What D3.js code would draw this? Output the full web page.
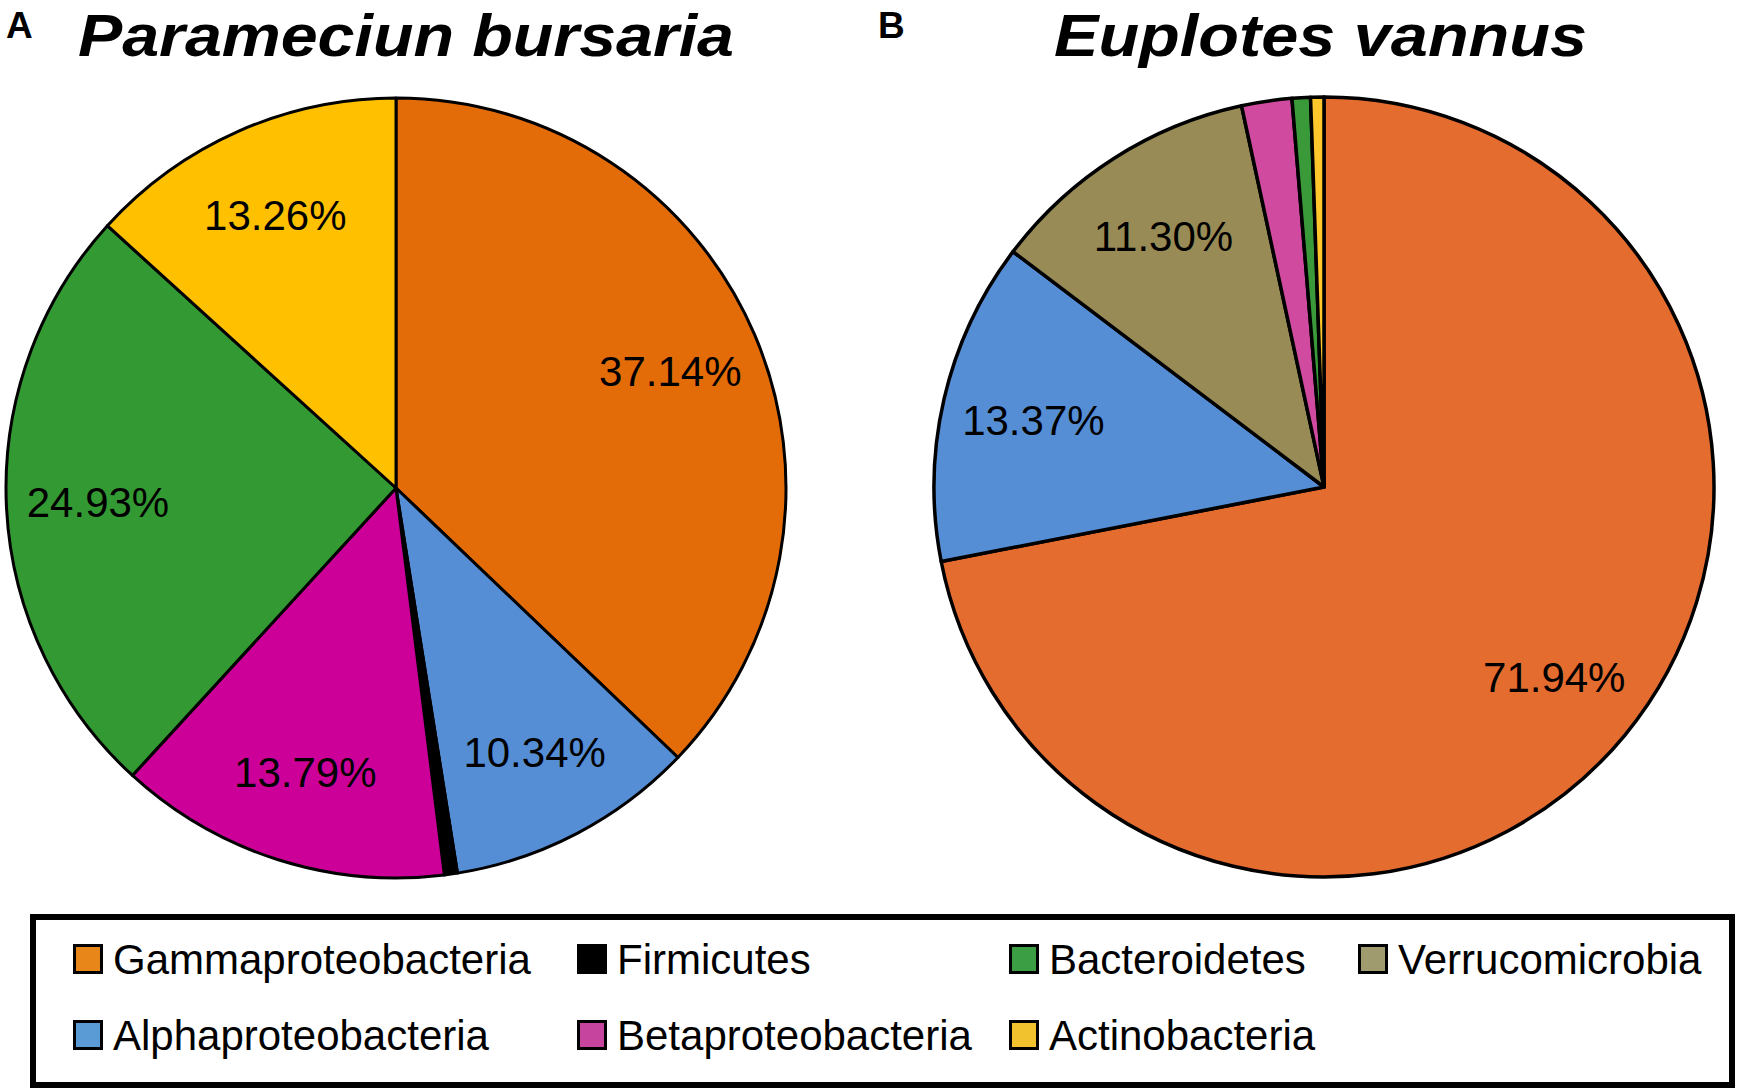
<!DOCTYPE html>
<html>
<head>
<meta charset="utf-8">
<script src="https://cdn.jsdelivr.net/npm/d3@7"></script>
<style>
  html, body { margin: 0; padding: 0; background: #fff; }
  svg { display: block; }
  text { font-family: "Liberation Sans", Arial, sans-serif; }
</style>
</head>
<body>
<svg id="chart" width="1743" height="1091"></svg>
<script>
// panel A
const paramCategories = ['Gammaproteobacteria', 'Alphaproteobacteria', 'Firmicutes', 'Betaproteobacteria', 'Bacteroidetes', 'Actinobacteria'];
const paramValues = [37.14, 10.34, 0.54, 13.79, 24.93, 13.26];
// panel B
const euploCategories = ['Gammaproteobacteria', 'Alphaproteobacteria', 'Verrucomicrobia', 'Betaproteobacteria', 'Bacteroidetes', 'Actinobacteria'];
const euploValues = [71.94, 13.37, 11.30, 2.08, 0.76, 0.55];
// legend, two rows
const legendRow1 = ['Gammaproteobacteria', 'Firmicutes', 'Bacteroidetes', 'Verrucomicrobia'];
const legendRow2 = ['Alphaproteobacteria', 'Betaproteobacteria', 'Actinobacteria'];

const colorsA = d3.scaleOrdinal()
    .domain(paramCategories)
    .range(['#e36c09', '#558ed5', '#000000', '#cc0099', '#339933', '#ffc000']);
const colorsB = d3.scaleOrdinal()
    .domain(euploCategories)
    .range(['#e46c2f', '#558ed5', '#988b55', '#d04aa0', '#3a9a3a', '#ffc72c']);
const legendColor = d3.scaleOrdinal()
    .domain(['Gammaproteobacteria', 'Firmicutes', 'Bacteroidetes', 'Verrucomicrobia', 'Alphaproteobacteria', 'Betaproteobacteria', 'Actinobacteria'])
    .range(['#e8861a', '#000000', '#3b9e44', '#a09b6e', '#5b9bd5', '#c6449e', '#f2c12e']);

const svg = d3.select('#chart');
const radius = 390;
const fmt = d3.format('.2f');

const drawPie = (cx, cy, cats, vals, color, strokeW) => {
    const data = cats.map((c, i) => ({ name: c, value: vals[i] }));
    const pie = d3.pie().sort(null).value(d => d.value);
    const arc = d3.arc().innerRadius(0).outerRadius(radius);
    const labelArc = d3.arc().innerRadius(radius * 0.765).outerRadius(radius * 0.765);

    const g = svg.append('g').attr('transform', 'translate(' + cx + ',' + cy + ')');
    const arcs = pie(data);

    g.selectAll('path')
    .data(arcs)
    .enter()
    .append('path')
    .attr('d', arc)
    .style('fill', d => color(d.data.name))
    .style('stroke', '#000')
    .style('stroke-width', strokeW)
    .style('stroke-linejoin', 'round');

    // only the big slices carry a label
    g.selectAll('text.pct')
    .data(arcs.filter(d => d.data.value >= 5))
    .enter()
    .append('text')
    .attr('class', 'pct')
    .attr('transform', d => 'translate(' + labelArc.centroid(d) + ')')
    .attr('text-anchor', 'middle')
    .attr('dy', '0.36em')
    .style('font-size', '42px')
    .style('fill', '#000')
    .text(d => fmt(d.data.value) + '%');
};

drawPie(396, 488, paramCategories, paramValues, colorsA, 3);
drawPie(1324, 487, euploCategories, euploValues, colorsB, 3.5);

// panel letters and titles
svg.append('text').attr('x', 6).attr('y', 38)
    .style('font-size', '37px').style('font-weight', 'bold').text('A');
svg.append('text').attr('x', 878).attr('y', 38)
    .style('font-size', '37px').style('font-weight', 'bold').text('B');

svg.append('text').attr('x', 78).attr('y', 56)
    .attr('textLength', 656).attr('lengthAdjust', 'spacingAndGlyphs')
    .style('font-size', '60px').style('font-weight', 'bold').style('font-style', 'italic')
    .text('Parameciun bursaria');
svg.append('text').attr('x', 1054).attr('y', 56)
    .attr('textLength', 533).attr('lengthAdjust', 'spacingAndGlyphs')
    .style('font-size', '60px').style('font-weight', 'bold').style('font-style', 'italic')
    .text('Euplotes vannus');

// legend box
svg.append('rect')
    .attr('x', 33).attr('y', 917)
    .attr('width', 1699).attr('height', 168)
    .style('fill', 'none').style('stroke', '#000').style('stroke-width', 6);

const colX = [73, 577, 1009, 1358];
const rows = [legendRow1, legendRow2];
const rowY = [944, 1020];

rows.forEach((row, r) => {
    const item = svg.append('g').selectAll('g')
    .data(row)
    .enter()
    .append('g')
    .attr('transform', (d, i) => 'translate(' + colX[i] + ',' + rowY[r] + ')');

    item.append('rect')
    .attr('x', 1.5).attr('y', 1.5)
    .attr('width', 27).attr('height', 27)
    .style('fill', d => legendColor(d))
    .style('stroke', '#000')
    .style('stroke-width', 3);

    item.append('text')
    .attr('x', 40).attr('y', 30)
    .style('font-size', '42px')
    .text(d => d);
});
</script>
</body>
</html>
